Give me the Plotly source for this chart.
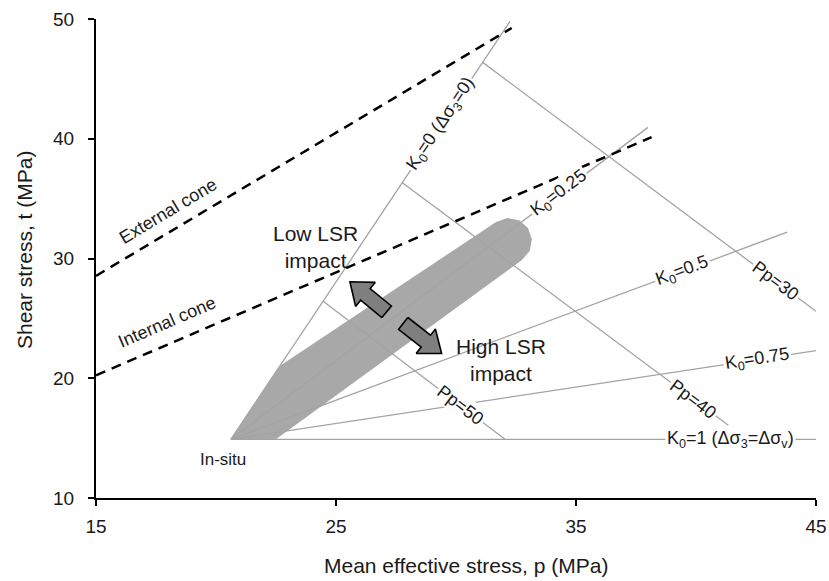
import math
import plotly.graph_objects as go

# ---------------- data ----------------
insitu_p, insitu_t = 20.62, 14.9

# stress paths from the in-situ point (end points)
k0_names = ["0", "0.25", "0.5", "0.75", "1"]
k0_end_p = [32.25, 38.0, 43.8, 45.0, 45.0]
k0_end_t = [49.8, 40.95, 32.2, 22.3, 14.9]

# iso-pore-pressure lines
pp_names = ["30", "40", "50"]
pp_start_p = [31.1, 27.75, 24.45]
pp_start_t = [46.4, 36.35, 26.45]
pp_end_p = [45.0, 41.35, 32.04]
pp_end_t = [25.6, 16.08, 14.9]

# failure cones (dashed)
ext_p = [15.0, 32.32]
ext_t = [28.55, 49.25]
int_p = [15.0, 38.15]
int_t = [20.25, 40.13]

# grey band outline
band_p = [20.62, 22.67, 31.67, 32.14, 32.63, 33.0, 33.16, 33.07, 32.75, 22.5]
band_t = [14.9, 21.05, 33.05, 33.38, 33.19, 32.54, 31.6, 30.63, 29.88, 14.9]

# block arrows: tail centre and tip
arrow_tail_p = [27.11, 27.8]
arrow_tail_t = [25.55, 24.58]
arrow_tip_p = [25.58, 29.4]
arrow_tip_t = [28.06, 22.07]

x_ticks = [15, 25, 35, 45]
y_ticks = [10, 20, 30, 40, 50]

# ---------------- layout geometry ----------------
W, H = 829, 581
ML, MR, MT, MB = 96, 13, 19, 83
PW, PH = W - ML - MR, H - MT - MB
XR, YR = [15, 45], [10, 50]
SX = PW / (XR[1] - XR[0])
SY = PH / (YR[1] - YR[0])

GREY = "#a3a3a3"
FONT = "Liberation Sans, Arial, sans-serif"
TXT = "#1a1a1a"

fig = go.Figure()

# band
fig.add_trace(go.Scatter(x=band_p + [band_p[0]], y=band_t + [band_t[0]], mode="lines",
                         fill="toself", fillcolor="#a8a8a8", line=dict(width=0),
                         hoverinfo="skip", showlegend=False))

# K0 paths
for ep, et in zip(k0_end_p, k0_end_t):
    fig.add_trace(go.Scatter(x=[insitu_p, ep], y=[insitu_t, et], mode="lines",
                             line=dict(color=GREY, width=1.3), showlegend=False, hoverinfo="skip"))
# Pp lines
for sp, st, ep, et in zip(pp_start_p, pp_start_t, pp_end_p, pp_end_t):
    fig.add_trace(go.Scatter(x=[sp, ep], y=[st, et], mode="lines",
                             line=dict(color=GREY, width=1.3), showlegend=False, hoverinfo="skip"))

# cones
for xs, ys in [(ext_p, ext_t), (int_p, int_t)]:
    fig.add_trace(go.Scatter(x=xs, y=ys, mode="lines",
                             line=dict(color="black", width=2.5, dash="10px,7px"),
                             showlegend=False, hoverinfo="skip"))


def arrow_poly(tp, tt, hp, ht, shaft_hw=7.5, head_hw=15.5, head_len=20.0):
    dx, dy = (hp - tp) * SX, (ht - tt) * SY
    L = math.hypot(dx, dy)
    ux, uy = dx / L, dy / L
    nx, ny = -uy, ux
    b = L - head_len
    pts = [(nx * shaft_hw, ny * shaft_hw),
           (ux * b + nx * shaft_hw, uy * b + ny * shaft_hw),
           (ux * b + nx * head_hw, uy * b + ny * head_hw),
           (dx, dy),
           (ux * b - nx * head_hw, uy * b - ny * head_hw),
           (ux * b - nx * shaft_hw, uy * b - ny * shaft_hw),
           (-nx * shaft_hw, -ny * shaft_hw)]
    pts.append(pts[0])
    return [tp + ox / SX for ox, oy in pts], [tt + oy / SY for ox, oy in pts]


for tp, tt, hp, ht in zip(arrow_tail_p, arrow_tail_t, arrow_tip_p, arrow_tip_t):
    xs, ys = arrow_poly(tp, tt, hp, ht)
    fig.add_trace(go.Scatter(x=xs, y=ys, mode="lines", fill="toself", fillcolor="#7f7f7f",
                             line=dict(color="black", width=1.6), showlegend=False,
                             hoverinfo="skip"))

# ---------------- labels ----------------
ann = []


def lab(text, x, y, angle=0, bg=True, size=18):
    ann.append(dict(text=text, x=x, y=y, xref="x", yref="y", showarrow=False,
                    textangle=angle, font=dict(family=FONT, size=size, color=TXT),
                    bgcolor="white" if bg else None, borderpad=1))


k0_texts = ["K<sub>0</sub>=0 (Δσ<sub>3</sub>=0)", "K<sub>0</sub>=0.25", "K<sub>0</sub>=0.5",
            "K<sub>0</sub>=0.75", "K<sub>0</sub>=1 (Δσ<sub>3</sub>=Δσ<sub>v</sub>)"]
k0_lab_p = [29.375, 34.3, 39.42, 42.58, 41.42]
for txt, lp, ep, et in zip(k0_texts, k0_lab_p, k0_end_p, k0_end_t):
    slope = (et - insitu_t) / (ep - insitu_p)
    lt = insitu_t + slope * (lp - insitu_p)
    ang = -math.degrees(math.atan(slope * SY / SX))
    lab(txt, lp, lt, ang)

pp_lab_p = [43.33, 39.875, 30.17]
for name, lp, sp, st, ep, et in zip(pp_names, pp_lab_p, pp_start_p, pp_start_t, pp_end_p, pp_end_t):
    slope = (et - st) / (ep - sp)
    lt = st + slope * (lp - sp)
    ang = -math.degrees(math.atan(slope * SY / SX))
    lab("Pp=" + name, lp, lt, ang)

lab("In-situ", 20.29, 13.24, 0, bg=False, size=17)
lab("External cone", 18.0, 33.97, -30.9, bg=False, size=18)
lab("Internal cone", 17.96, 24.69, -23.2, bg=False, size=18)
lab("Low LSR<br>impact", 24.125, 30.94, 0, bg=False, size=21)
lab("High LSR<br>impact", 31.875, 21.5, 0, bg=False, size=21)

# axis titles
ann.append(dict(text="Mean effective stress, p (MPa)", xref="paper", yref="paper",
                x=(466 - ML) / PW, y=-(565 - (MT + PH)) / PH, showarrow=False,
                xanchor="center", yanchor="middle", font=dict(family=FONT, size=21, color=TXT)))
ann.append(dict(text="Shear stress, t (MPa)", xref="paper", yref="paper",
                x=(24 - ML) / PW, y=(MT + PH - 250) / PH, showarrow=False, textangle=-90,
                xanchor="center", yanchor="middle", font=dict(family=FONT, size=21, color=TXT)))

axis_common = dict(showgrid=False, zeroline=False, showline=True, linecolor="black",
                   linewidth=2, ticks="outside", tickcolor="black", tickwidth=2, ticklen=6,
                   automargin=False, tickfont=dict(family=FONT, size=19, color=TXT))

fig.update_layout(
    width=W, height=H, margin=dict(l=ML, r=MR, t=MT, b=MB, pad=0, autoexpand=False),
    paper_bgcolor="white", plot_bgcolor="white", showlegend=False,
    xaxis=dict(range=XR, tickvals=x_ticks, ticklabelstandoff=4, **axis_common),
    yaxis=dict(range=YR, tickvals=y_ticks, ticklabelstandoff=10, **axis_common),
    annotations=ann,
)

fig.write_html("out.html", config={"displayModeBar": False},
               post_script="document.body.style.margin='0';document.body.style.overflow='hidden';")
